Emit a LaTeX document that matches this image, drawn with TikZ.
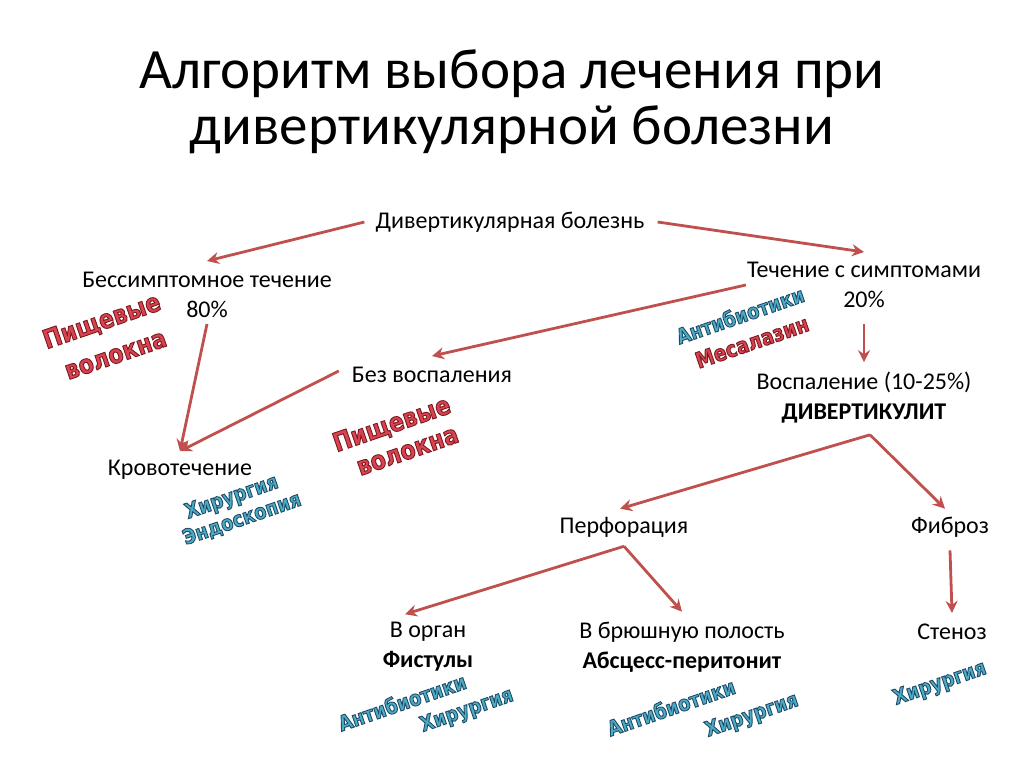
\documentclass[tikz,border=0pt]{standalone}
\usepackage{fontspec}
\setmainfont{Carlito}
\newfontfamily\artfont[FakeStretch=0.85]{DejaVu Sans}
\usetikzlibrary{arrows.meta}

\definecolor{arrred}{HTML}{C0504D}
\definecolor{artred}{HTML}{D9434F}
\definecolor{artblue}{HTML}{4BACC6}
% outlined WordArt text: fill in node colour, stroke in dark colour
\newcommand\artred[1]{\special{pdf:literal direct 2 Tr 0.9 w 0.48 0.10 0.12 RG}#1\special{pdf:literal direct 0 Tr}}
\newcommand\artblue[1]{\special{pdf:literal direct 2 Tr 0.9 w 0.12 0.29 0.40 RG}#1\special{pdf:literal direct 0 Tr}}

\tikzset{
  ttl/.style={font=\fontsize{57}{56}\selectfont, align=center},
  txt/.style={font=\fontsize{24}{30}\selectfont, align=center, inner sep=1pt},
  arr/.style={draw=arrred, line width=2.8pt, -{Stealth[length=12pt,width=12pt,inset=4pt]}},
  wr/.style={font=\artfont\bfseries\fontsize{26}{28}\selectfont, text=artred, rotate=19, inner sep=0pt},
  wb/.style={font=\artfont\bfseries\fontsize{21}{22}\selectfont, text=artblue, rotate=19, inner sep=0pt},
}

\begin{document}
\begin{tikzpicture}[x=1pt,y=-1pt]
\useasboundingbox (0,0) rectangle (1024,767);
\node[ttl] (title) at (512,102) {Алгоритм выбора лечения при\\дивертикулярной болезни};
% nodes
\node[txt] (db) at (510,222) {Дивертикулярная болезнь};
\node[txt] (bt) at (207,295) {Бессимптомное течение\\80\%};
\node[txt] (ts) at (864,285) {Течение с симптомами\\20\%};
\node[txt] (bv) at (432,375) {Без воспаления};
\node[txt] (vd) at (864,398) {Воспаление (10-25\%)\\\textbf{ДИВЕРТИКУЛИТ}};
\node[txt] (kr) at (180,470) {Кровотечение};
\node[txt] (pf) at (624,527) {Перфорация};
\node[txt] (fb) at (950,527) {Фиброз};
\node[txt] (vo) at (428,647) {В орган\\\textbf{Фистулы}};
\node[txt] (vb) at (682,647) {В брюшную полость\\\textbf{Абсцесс-перитонит}};
\node[txt] (st) at (952,632) {Стеноз};
% arrows
\draw[arr] ([xshift=-10pt]db.west) -- ([yshift=10pt]bt.north);
\draw[arr] ([xshift=12pt]db.east) -- ([yshift=9pt]ts.north);
\draw[arr] (ts.west) -- ([yshift=10pt]bv.north);
\draw[arr] ([yshift=-15pt]ts.south) -- ([yshift=9pt]vd.north);
\draw[arr] ([yshift=-5pt]bt.south) -- ([yshift=8pt]kr.north);
\draw[arr] ([xshift=-12pt,yshift=4pt]bv.west) -- ([yshift=8pt]kr.north);
\draw[arr] ([xshift=6pt,yshift=-10pt]vd.south) -- ([xshift=-4pt,yshift=7pt]pf.north);
\draw[arr] ([xshift=6pt,yshift=-10pt]vd.south) -- ([xshift=-5pt,yshift=7pt]fb.north);
\draw[arr] ([yshift=-8pt]pf.south) -- ([xshift=-23pt,yshift=7pt]vo.north);
\draw[arr] ([yshift=-8pt]pf.south) -- ([yshift=9pt]vb.north);
\draw[arr] ([yshift=-12pt]fb.south) -- ([yshift=10pt]st.north);
% labels
\node[wr] (pv1a) at (102,322) {\artred{Пищевые}};
\node[wr] (pv1b) at (116,356) {\artred{волокна}};
\node[wr] (pv2a) at (392,425) {\artred{Пищевые}};
\node[wr] (pv2b) at (408,452) {\artred{волокна}};
\node[wb] (hk) at (232,498) {\artblue{Хирургия}};
\node[wb] (ek) at (242,519) {\artblue{Эндоскопия}};
\node[wb] (as) at (740,315) {\artblue{Антибиотики}};
\node[wr, font=\artfont\bfseries\fontsize{22}{24}\selectfont] (ms) at (752,342) {\artred{Месалазин}};
\node[wb] (af) at (402,702) {\artblue{Антибиотики}};
\node[wb] (hf) at (467,711) {\artblue{Хирургия}};
\node[wb] (aa) at (671,707) {\artblue{Антибиотики}};
\node[wb] (ha) at (752,716) {\artblue{Хирургия}};
\node[wb] (hs) at (940,684) {\artblue{Хирургия}};
\end{tikzpicture}
\end{document}
